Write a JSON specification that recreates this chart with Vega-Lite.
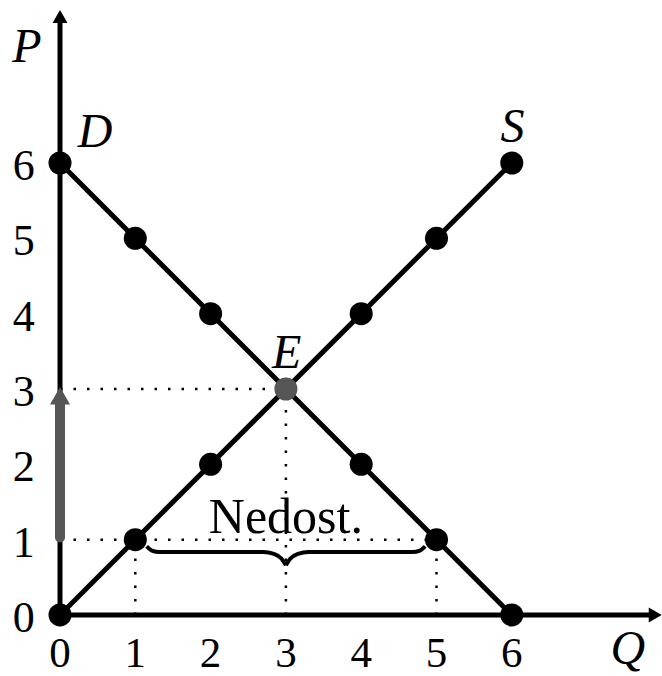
{
  "$schema": "https://vega.github.io/schema/vega-lite/v6.json",
  "width": 662,
  "height": 676,
  "padding": 0,
  "autosize": {"type": "none"},
  "background": "white",
  "config": {"view": {"stroke": null}},
  "datasets": {
    "dotted": [
      {"x": 0, "y": 3, "x2": 3, "y2": 3},
      {"x": 3, "y": 0, "x2": 3, "y2": 3},
      {"x": 0, "y": 1, "x2": 5, "y2": 1},
      {"x": 1, "y": 0, "x2": 1, "y2": 1},
      {"x": 5, "y": 0, "x2": 5, "y2": 1}
    ],
    "curves": [
      {"series": "D", "x": 0, "y": 6},
      {"series": "D", "x": 6, "y": 0},
      {"series": "S", "x": 0, "y": 0},
      {"series": "S", "x": 6, "y": 6}
    ],
    "axes": [
      {"x": 0, "y": 0, "x2": 7.9, "y2": 0},
      {"x": 0, "y": 0, "x2": 0, "y2": 7.94}
    ],
    "heads": [
      {"axis": "x", "x": 7.905, "y": 0},
      {"axis": "y", "x": 0, "y": 7.945}
    ],
    "brace": [
      {"half": "L", "x": 1.15, "y": 0.91},
      {"half": "L", "x": 1.22, "y": 0.855},
      {"half": "L", "x": 1.32, "y": 0.835},
      {"half": "L", "x": 2.7, "y": 0.835},
      {"half": "L", "x": 2.84, "y": 0.81},
      {"half": "L", "x": 2.94, "y": 0.75},
      {"half": "L", "x": 3, "y": 0.66},
      {"half": "R", "x": 3, "y": 0.66},
      {"half": "R", "x": 3.06, "y": 0.75},
      {"half": "R", "x": 3.16, "y": 0.81},
      {"half": "R", "x": 3.3, "y": 0.835},
      {"half": "R", "x": 4.68, "y": 0.835},
      {"half": "R", "x": 4.78, "y": 0.855},
      {"half": "R", "x": 4.85, "y": 0.91}
    ],
    "points": [
      {"x": 0, "y": 6, "kind": "n"},
      {"x": 1, "y": 5, "kind": "n"},
      {"x": 2, "y": 4, "kind": "n"},
      {"x": 4, "y": 2, "kind": "n"},
      {"x": 5, "y": 1, "kind": "n"},
      {"x": 6, "y": 0, "kind": "n"},
      {"x": 0, "y": 0, "kind": "n"},
      {"x": 1, "y": 1, "kind": "n"},
      {"x": 2, "y": 2, "kind": "n"},
      {"x": 4, "y": 4, "kind": "n"},
      {"x": 5, "y": 5, "kind": "n"},
      {"x": 6, "y": 6, "kind": "n"},
      {"x": 3, "y": 3, "kind": "E"}
    ],
    "ticks": [
      {"v": 0}, {"v": 1}, {"v": 2}, {"v": 3}, {"v": 4}, {"v": 5}, {"v": 6}
    ],
    "labels": [
      {"x": -0.44, "y": 7.34, "t": "P"},
      {"x": 7.54, "y": -0.65, "t": "Q"},
      {"x": 0.465, "y": 6.21, "t": "D"},
      {"x": 6.01, "y": 6.28, "t": "S"},
      {"x": 3.01, "y": 3.28, "t": "E"}
    ],
    "note": [
      {"x": 3.0, "y": 1.09, "t": "Nedost."}
    ]
  },
  "encoding": {
    "x": {"type": "quantitative", "scale": {"domain": [-0.797, 7.995], "nice": false, "zero": false}, "axis": null},
    "y": {"type": "quantitative", "scale": {"domain": [-0.81, 8.164], "nice": false, "zero": false}, "axis": null}
  },
  "layer": [
    {
      "data": {"name": "dotted"},
      "mark": {"type": "rule", "color": "black", "strokeWidth": 2.5, "strokeDash": [2.5, 11]},
      "encoding": {"x": {"field": "x", "type": "quantitative"}, "y": {"field": "y", "type": "quantitative"}, "x2": {"field": "x2"}, "y2": {"field": "y2"}}
    },
    {
      "data": {"name": "curves"},
      "mark": {"type": "line", "color": "black", "strokeWidth": 5},
      "encoding": {"x": {"field": "x", "type": "quantitative"}, "y": {"field": "y", "type": "quantitative"}, "detail": {"field": "series"}}
    },
    {
      "data": {"name": "axes"},
      "mark": {"type": "rule", "color": "black", "strokeWidth": 5},
      "encoding": {"x": {"field": "x", "type": "quantitative"}, "y": {"field": "y", "type": "quantitative"}, "x2": {"field": "x2"}, "y2": {"field": "y2"}}
    },
    {
      "data": {"name": "heads"},
      "mark": {"type": "point", "filled": true, "color": "black", "opacity": 1, "size": 225},
      "encoding": {
        "x": {"field": "x", "type": "quantitative"},
        "y": {"field": "y", "type": "quantitative"},
        "shape": {"field": "axis", "type": "nominal", "scale": {"domain": ["x", "y"], "range": ["triangle-right", "triangle-up"]}, "legend": null}
      }
    },
    {
      "data": {"name": "brace"},
      "mark": {"type": "line", "color": "black", "strokeWidth": 4, "interpolate": "monotone"},
      "encoding": {"x": {"field": "x", "type": "quantitative"}, "y": {"field": "y", "type": "quantitative"}, "detail": {"field": "half"}}
    },
    {
      "data": {"values": [{"y": 1.03, "y2": 2.86}]},
      "mark": {"type": "rule", "color": "#555555", "strokeWidth": 10, "strokeCap": "round"},
      "encoding": {"x": {"datum": 0, "type": "quantitative"}, "y": {"field": "y", "type": "quantitative"}, "y2": {"field": "y2"}}
    },
    {
      "data": {"values": [{"y": 2.91}]},
      "mark": {"type": "point", "shape": "triangle-up", "filled": true, "color": "#555555", "opacity": 1, "size": 400},
      "encoding": {"x": {"datum": 0, "type": "quantitative"}, "y": {"field": "y", "type": "quantitative"}}
    },
    {
      "data": {"name": "points"},
      "mark": {"type": "point", "shape": "circle", "filled": true, "opacity": 1, "size": 530},
      "encoding": {
        "x": {"field": "x", "type": "quantitative"},
        "y": {"field": "y", "type": "quantitative"},
        "color": {"field": "kind", "type": "nominal", "scale": {"domain": ["n", "E"], "range": ["#000000", "#555555"]}, "legend": null}
      }
    },
    {
      "data": {"name": "ticks"},
      "mark": {"type": "text", "font": "Liberation Serif", "fontSize": 43, "align": "center", "baseline": "alphabetic", "dy": 52, "color": "black"},
      "encoding": {"x": {"field": "v", "type": "quantitative"}, "y": {"datum": 0, "type": "quantitative"}, "text": {"field": "v", "type": "nominal"}}
    },
    {
      "data": {"name": "ticks"},
      "mark": {"type": "text", "font": "Liberation Serif", "fontSize": 44, "align": "center", "baseline": "alphabetic", "dy": 17, "color": "black"},
      "encoding": {"x": {"datum": -0.48, "type": "quantitative"}, "y": {"field": "v", "type": "quantitative"}, "text": {"field": "v", "type": "nominal"}}
    },
    {
      "data": {"name": "labels"},
      "mark": {"type": "text", "font": "Liberation Serif", "fontStyle": "italic", "fontSize": 48, "align": "center", "baseline": "alphabetic", "color": "black"},
      "encoding": {"x": {"field": "x", "type": "quantitative"}, "y": {"field": "y", "type": "quantitative"}, "text": {"field": "t", "type": "nominal"}}
    },
    {
      "data": {"name": "note"},
      "mark": {"type": "text", "font": "Liberation Serif", "fontSize": 50, "align": "center", "baseline": "alphabetic", "color": "black"},
      "encoding": {"x": {"field": "x", "type": "quantitative"}, "y": {"field": "y", "type": "quantitative"}, "text": {"field": "t", "type": "nominal"}}
    }
  ]
}
